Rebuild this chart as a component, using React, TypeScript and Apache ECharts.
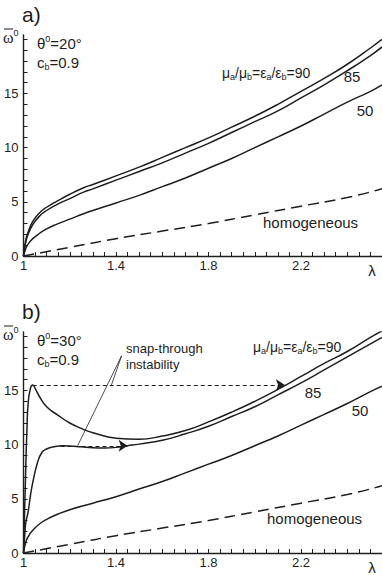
import { useEffect, useRef } from "react";
import * as echarts from "echarts";

// ---------- data ----------
const xMajorTicks = [1, 1.4, 1.8, 2.2];
const yMajorTicks = [0, 5, 10, 15];

// panel a) theta = 20°
const a90X = [1, 1.01, 1.02, 1.04, 1.07, 1.1, 1.14, 1.2, 1.26, 1.3, 1.4, 1.5, 1.6, 1.7, 1.8, 1.9, 2.0, 2.1, 2.2, 2.3, 2.4, 2.5, 2.55];
const a90Y = [0, 1.5, 2.2, 3.2, 4.0, 4.5, 5.0, 5.7, 6.3, 6.6, 7.4, 8.2, 9.1, 10.0, 10.9, 11.9, 12.9, 14.0, 15.2, 16.4, 17.7, 19.2, 20.0];
const a85Y = [0, 1.3, 2.0, 2.9, 3.7, 4.2, 4.7, 5.3, 5.9, 6.2, 7.0, 7.8, 8.6, 9.5, 10.4, 11.4, 12.4, 13.4, 14.6, 15.8, 17.1, 18.5, 19.3];
const a50Y = [0, 0.7, 1.1, 1.6, 2.1, 2.5, 2.9, 3.4, 3.9, 4.2, 4.9, 5.6, 6.4, 7.2, 8.1, 9.0, 10.0, 11.0, 12.0, 13.1, 14.2, 15.2, 15.8];

// homogeneous (both panels)
const homX = [1, 1.2, 1.4, 1.6, 1.8, 2.0, 2.2, 2.4, 2.55];
const homY = [0, 0.8, 1.6, 2.3, 3.0, 3.8, 4.6, 5.4, 6.2];

// panel b) theta = 30°
const b90X = [1, 1.005, 1.01, 1.015, 1.02, 1.03, 1.04, 1.05, 1.07, 1.1, 1.15, 1.2, 1.25, 1.3, 1.4, 1.5, 1.6, 1.7, 1.8, 1.9, 2.0, 2.1, 2.2, 2.3, 2.4, 2.5, 2.55];
const b90Y = [0, 4, 8, 11.5, 13.8, 15.2, 15.5, 15.2, 14.4, 13.5, 12.7, 12.0, 11.5, 11.1, 10.6, 10.5, 10.8, 11.3, 12.1, 13.0, 14.0, 15.1, 16.3, 17.5, 18.6, 19.9, 20.5];
const b85X = [1, 1.005, 1.01, 1.02, 1.03, 1.04, 1.06, 1.08, 1.1, 1.13, 1.17, 1.2, 1.25, 1.3, 1.35, 1.4, 1.45, 1.5, 1.6, 1.7, 1.8, 1.9, 2.0, 2.1, 2.2, 2.3, 2.4, 2.5, 2.55];
const b85Y = [0, 1.5, 2.8, 3.8, 5.3, 6.5, 8.3, 9.3, 9.6, 9.8, 9.9, 9.88, 9.8, 9.72, 9.7, 9.75, 9.9, 10.05, 10.4, 11.0, 11.7, 12.6, 13.5, 14.6, 15.7, 16.9, 18.1, 19.3, 19.9];
const b50X = [1, 1.01, 1.02, 1.04, 1.07, 1.1, 1.15, 1.2, 1.3, 1.4, 1.5, 1.6, 1.7, 1.8, 1.9, 2.0, 2.1, 2.2, 2.3, 2.4, 2.5, 2.55];
const b50Y = [0, 1.0, 1.5, 2.1, 2.7, 3.1, 3.6, 4.0, 4.6, 5.2, 5.9, 6.6, 7.4, 8.2, 9.0, 9.9, 10.8, 11.8, 12.8, 13.8, 14.9, 15.4];

// snap-through jumps (from -> to), and leader line origin / targets
const jumpUpperFrom = [1.04, 15.5];
const jumpUpperTo = [2.13, 15.5];
const jumpLowerFrom = [1.16, 9.9];
const jumpLowerTo = [1.45, 9.9];
const leaderOrigin = [1.424, 18.2];
const leaderTargets = [
  [1.38, 15.5],
  [1.234, 9.9],
];

// ---------- helpers ----------
const X_MIN = 1;
const X_MAX = 2.55;
const Y_MAX = 20.4;
const INK = "#1e1e1e";
const SANS = "Liberation Sans, Arial, Helvetica, sans-serif";
const SERIF = "Liberation Serif, DejaVu Serif, Times New Roman, serif";

const zip = (xs: number[], ys: number[]) => xs.map((x, i) => [x, ys[i]]);

const xTickValues: number[] = [];
for (let i = 0; i <= Math.round((X_MAX - X_MIN) / 0.05); i++) xTickValues.push(+(X_MIN + i * 0.05).toFixed(2));
const yTickValues: number[] = [];
for (let i = 0; i <= 20; i++) yTickValues.push(i);

function xAxisFor(gridIndex: number) {
  return {
    type: "value",
    gridIndex,
    min: X_MIN,
    max: X_MAX,
    axisLine: { show: true, lineStyle: { color: INK, width: 1.4 } },
    axisTick: { show: true, inside: true, length: 4, customValues: xTickValues, lineStyle: { color: INK, width: 1 } },
    axisLabel: { customValues: xMajorTicks, fontSize: 13, color: INK, fontFamily: SANS, margin: 3, formatter: (v: number) => String(v) },
    splitLine: { show: false },
  };
}
function yAxisFor(gridIndex: number) {
  return {
    type: "value",
    gridIndex,
    min: 0,
    max: Y_MAX,
    axisLine: { show: true, lineStyle: { color: INK, width: 1.4 } },
    axisTick: { show: true, inside: true, length: 4, customValues: yTickValues, lineStyle: { color: INK, width: 1 } },
    axisLabel: { customValues: yMajorTicks, fontSize: 13, color: INK, fontFamily: SANS, margin: 5 },
    splitLine: { show: false },
  };
}

function curve(name: string, xs: number[], ys: number[], gi: number, dashed = false, extra: any = {}) {
  return {
    name,
    type: "line",
    xAxisIndex: gi,
    yAxisIndex: gi,
    data: zip(xs, ys),
    showSymbol: false,
    symbol: "none",
    smooth: 0.5,
    silent: true,
    lineStyle: dashed ? { color: INK, width: 1.5, type: [11, 6] } : { color: INK, width: 1.5 },
    z: 3,
    ...extra,
  };
}

const sub = { fontSize: 9, lineHeight: 9, verticalAlign: "bottom", fontFamily: SANS, fill: INK };
const sup = { fontSize: 9, lineHeight: 9, verticalAlign: "top", fontFamily: SANS, fill: INK };

function txt(x: number, y: number, text: string, size: number, extra: any = {}) {
  return {
    type: "text",
    x,
    y,
    silent: true,
    style: { text, fontSize: size, fontFamily: SANS, fill: INK, textVerticalAlign: "middle", ...extra },
  };
}

function richTxt(x: number, y: number, text: string, size: number) {
  return {
    type: "text",
    x,
    y,
    silent: true,
    style: {
      text,
      fontSize: size,
      fontFamily: SANS,
      fill: INK,
      textVerticalAlign: "middle",
      rich: {
        t: { fontSize: size, lineHeight: size + 3, fontFamily: SANS, fill: INK },
        s: { ...sub, fontSize: Math.round(size * 0.62), lineHeight: Math.round(size * 0.62) },
        p: { ...sup, fontSize: Math.round(size * 0.62), lineHeight: Math.round(size * 0.62) },
        w: { fontSize: size + 2, lineHeight: size + 3, fontFamily: SERIF, fill: INK },
      },
    },
  };
}

function panelTexts(dy: number, label: string, theta: string) {
  return [
    txt(22, 14 + dy, label, 21),
    richTxt(3, 37 + dy, "{w|ω}{p|0}", 14),
    { type: "line", silent: true, shape: { x1: 4, y1: 29 + dy, x2: 13, y2: 29 + dy }, style: { stroke: INK, lineWidth: 1 } },
    richTxt(37, 43 + dy, "{t|θ}{p|0}{t|=" + theta + "°}", 15),
    richTxt(37, 62 + dy, "{t|c}{s|b}{t|=0.9}", 15),
    txt(372, 270 + dy, "λ", 15, { textAlign: "center" }),
  ];
}

const muLabel = "{t|μ}{s|a}{t|/μ}{s|b}{t|=ε}{s|a}{t|/ε}{s|b}{t|=90}";

const option: any = {
  animation: false,
  backgroundColor: "#ffffff",
  grid: [
    { left: 23.5, top: 35, width: 360, height: 221, containLabel: false },
    { left: 23.5, top: 332, width: 360, height: 221, containLabel: false },
  ],
  xAxis: [xAxisFor(0), xAxisFor(1)],
  yAxis: [yAxisFor(0), yAxisFor(1)],
  series: [
    curve("a90", a90X, a90Y, 0),
    curve("a85", a90X, a85Y, 0),
    curve("a50", a90X, a50Y, 0),
    curve("aHom", homX, homY, 0, true),
    curve("b90", b90X, b90Y, 1, false, {
      markLine: {
        silent: true,
        symbol: ["none", "arrow"],
        symbolSize: 9,
        label: { show: false },
        lineStyle: { color: INK, width: 1, type: [4, 3] },
        itemStyle: { color: INK },
        data: [
          [{ coord: jumpUpperFrom, symbol: "none" }, { coord: jumpUpperTo, symbol: "arrow", symbolSize: 9 }],
          [{ coord: jumpLowerFrom, symbol: "none" }, { coord: jumpLowerTo, symbol: "arrow", symbolSize: 9 }],
        ],
      },
    }),
    curve("b85", b85X, b85Y, 1),
    curve("b50", b50X, b50Y, 1, false, {
      markLine: {
        silent: true,
        symbol: ["none", "none"],
        label: { show: false },
        lineStyle: { color: INK, width: 0.8, type: "solid" },
        data: leaderTargets.map((t) => [{ coord: leaderOrigin }, { coord: t }]),
      },
    }),
    curve("bHom", homX, homY, 1, true),
  ],
  graphic: [
    ...panelTexts(0, "a)", "20"),
    ...panelTexts(297, "b)", "30"),
    // panel a curve labels
    richTxt(222, 73, muLabel, 14),
    txt(352, 76, "85", 15, { textAlign: "center" }),
    txt(365, 110, "50", 15, { textAlign: "center" }),
    txt(263, 222, "homogeneous", 15),
    // panel b curve labels
    richTxt(253, 347, muLabel, 14),
    txt(313, 392, "85", 15, { textAlign: "center" }),
    txt(360, 410, "50", 15, { textAlign: "center" }),
    txt(267, 518, "homogeneous", 15),
    txt(126, 348, "snap-through", 13),
    txt(126, 364, "instability", 13),
  ],
};

export default function App() {
  const ref = useRef<HTMLDivElement>(null);
  useEffect(() => {
    const chart = echarts.init(ref.current!, null, { renderer: "svg" });
    chart.setOption(option);
    return () => chart.dispose();
  }, []);
  return (
    <div
      ref={ref}
      style={{ position: "absolute", left: 0, top: 0, width: 382, height: 575, background: "#fff" }}
    />
  );
}
